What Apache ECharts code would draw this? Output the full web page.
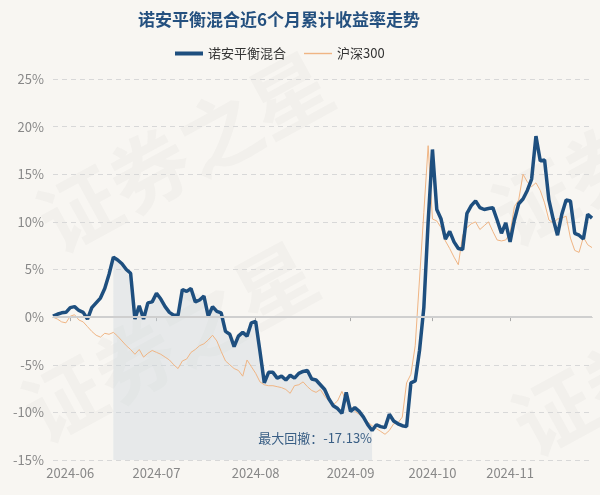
<!DOCTYPE html>
<html>
<head>
<meta charset="utf-8">
<script src="https://cdn.jsdelivr.net/npm/echarts@6/dist/echarts.min.js"></script>
<style>
html,body{margin:0;padding:0;background:#f8f6f2;}
#c{width:600px;height:495px;}
</style>
</head>
<body>
<div id="c"></div>
<script>
var titleText = '诺安平衡混合近6个月累计收益率走势';
var fundName = '诺安平衡混合';
var indexName = '沪深300';
var drawdownText = '最大回撤：-17.13%';

var dates = [
'2024-05-28','2024-05-29','2024-05-30','2024-05-31',
'2024-06-03','2024-06-04','2024-06-05','2024-06-06','2024-06-07','2024-06-10','2024-06-11','2024-06-12','2024-06-13','2024-06-14',
'2024-06-17','2024-06-18','2024-06-19','2024-06-20','2024-06-21','2024-06-24','2024-06-25','2024-06-26','2024-06-27','2024-06-28',
'2024-07-01','2024-07-02','2024-07-03','2024-07-04','2024-07-05','2024-07-08','2024-07-09','2024-07-10','2024-07-11','2024-07-12',
'2024-07-15','2024-07-16','2024-07-17','2024-07-18','2024-07-19','2024-07-22','2024-07-23','2024-07-24','2024-07-25','2024-07-26',
'2024-07-29','2024-07-30','2024-07-31',
'2024-08-01','2024-08-02','2024-08-05','2024-08-06','2024-08-07','2024-08-08','2024-08-09','2024-08-12','2024-08-13','2024-08-14',
'2024-08-15','2024-08-16','2024-08-19','2024-08-20','2024-08-21','2024-08-22','2024-08-23','2024-08-26','2024-08-27','2024-08-28',
'2024-08-29','2024-08-30',
'2024-09-02','2024-09-03','2024-09-04','2024-09-05','2024-09-06','2024-09-09','2024-09-10','2024-09-11','2024-09-12','2024-09-13',
'2024-09-18','2024-09-19','2024-09-20','2024-09-23','2024-09-24','2024-09-25','2024-09-26','2024-09-27','2024-09-30',
'2024-10-08','2024-10-09','2024-10-10','2024-10-11','2024-10-14','2024-10-15','2024-10-16','2024-10-17','2024-10-18',
'2024-10-21','2024-10-22','2024-10-23','2024-10-24','2024-10-25','2024-10-28','2024-10-29','2024-10-30','2024-10-31',
'2024-11-01','2024-11-04','2024-11-05','2024-11-06','2024-11-07','2024-11-08','2024-11-11','2024-11-12','2024-11-13','2024-11-14',
'2024-11-15','2024-11-18','2024-11-19','2024-11-20','2024-11-21','2024-11-22','2024-11-25','2024-11-26','2024-11-27','2024-11-28'
];

var fundValues = [
0.1,0.3,0.45,0.5,1.0,1.1,0.7,0.5,-0.2,1.0,
1.5,2.0,3.0,4.5,6.3,6.0,5.6,5.0,4.6,-0.2,
1.2,-0.2,1.5,1.6,2.5,1.9,1.1,0.5,0.2,0.2,
2.9,2.7,3.0,1.6,1.8,2.2,0.1,1.1,0.6,0.45,
-1.5,-1.8,-3.1,-2.0,-1.6,-2.0,-0.6,-0.45,-3.6,-6.9,
-5.8,-5.8,-6.4,-6.2,-6.6,-6.1,-6.4,-5.9,-5.7,-5.6,
-6.5,-6.6,-7.1,-7.6,-8.6,-9.3,-9.6,-10.1,-7.9,-9.9,
-9.5,-9.9,-10.5,-11.3,-11.91,-11.3,-11.5,-11.6,-10.2,-10.9,
-11.2,-11.4,-11.5,-6.9,-6.7,-3.5,1.0,10.0,17.6,11.3,
10.3,8.2,9.0,7.9,7.2,7.1,10.9,11.7,12.2,11.5,
11.3,11.4,11.5,10.2,8.8,9.9,7.9,10.2,11.9,12.4,
13.3,14.5,19.0,16.4,16.5,12.3,10.3,8.6,10.8,12.3,
12.2,8.8,8.6,8.2,10.8,10.4
];

var indexValues = [
0,-0.2,-0.5,-0.6,0.1,0.25,-0.3,-0.5,-1.0,-1.5,
-1.9,-2.1,-1.7,-1.8,-1.6,-2.0,-2.5,-3.0,-3.4,-3.9,
-3.4,-4.2,-3.8,-3.5,-3.7,-3.9,-4.2,-4.5,-5.0,-5.4,
-4.6,-4.4,-3.7,-3.4,-3.0,-2.8,-2.4,-1.9,-2.5,-3.6,
-4.6,-5.0,-5.4,-5.6,-6.2,-4.5,-5.2,-5.9,-6.8,-7.1,
-7.2,-7.2,-7.3,-7.4,-7.6,-8.0,-7.2,-7.1,-6.8,-7.3,
-7.7,-7.9,-7.6,-8.3,-8.8,-9.2,-8.8,-7.8,-8.8,-9.4,
-9.9,-10.2,-10.6,-11.0,-11.4,-11.7,-12.0,-12.3,-11.9,-11.2,
-11.1,-10.5,-6.9,-6.0,-3.0,4.0,11.0,18.0,10.3,10.1,
9.4,8.0,7.2,6.3,5.5,8.6,9.4,9.8,10.0,9.2,
9.6,10.0,9.0,8.1,8.0,8.1,8.8,11.6,12.3,15.0,
14.2,13.7,14.1,13.3,12.0,10.2,9.9,10.3,10.4,10.6,
8.3,7.0,6.8,8.4,7.6,7.3
];

var yTicks = [-15,-10,-5,0,5,10,15,20,25];
var peakIdx = 14, troughIdx = 74;

var ddValues = fundValues.map(function(v, i){ return (i >= peakIdx && i <= troughIdx) ? v : null; });

function isMonthStart(idx){
  if (idx === 0) return false;
  return dates[idx].slice(0,7) !== dates[idx-1].slice(0,7);
}

var blue = '#1e4f7f', orange = '#f0b584';
var chart = echarts.init(document.getElementById('c'), null, {renderer:'canvas'});
var wm = 'rgba(120,120,120,0.045)';
var wmFont = 'bold 80px "Noto Sans CJK SC"';
chart.setOption({
  backgroundColor: '#f8f6f2',
  animation: false,
  title: {
    text: titleText,
    left: 133,
    top: 6,
    textStyle: {fontSize: 17, fontWeight: 'bold', color: '#24507f', fontFamily: 'Noto Sans CJK SC'}
  },
  legend: {
    top: 42,
    left: 170,
    itemWidth: 28,
    itemHeight: 10,
    itemGap: 18,
    textStyle: {fontSize: 13, color: '#333', fontFamily: 'Noto Sans CJK SC'},
    data: [
      {name: fundName, icon: 'path://M0 0H28V4H0Z', itemStyle: {color: blue}},
      {name: indexName, icon: 'path://M0 0H28V1.4H0Z', itemStyle: {color: orange}}
    ]
  },
  graphic: [
    {type:'text', left: 25, top: 40, rotation: 0.5, style:{text:'证券之星', font: wmFont, fill: wm}, z: -1},
    {type:'text', left: 10, top: 230, rotation: 0.5, style:{text:'证券之星', font: wmFont, fill: wm}, z: -1},
    {type:'text', left: 480, top: 110, rotation: 0.5, style:{text:'证券', font: wmFont, fill: wm}, z: -1},
    {type:'text', left: 500, top: 320, rotation: 0.5, style:{text:'证券', font: wmFont, fill: wm}, z: -1}
  ],
  grid: {left: 53, right: 8, top: 79, bottom: 35, containLabel: false},
  xAxis: {
    type: 'category',
    data: dates,
    boundaryGap: false,
    axisLine: {lineStyle: {color: '#aaa', width: 1}},
    axisTick: {show: true, length: 4, lineStyle: {color: '#aaa'}, interval: function(i){ return isMonthStart(i); }},
    axisLabel: {
      interval: function(i){ return isMonthStart(i); },
      formatter: function(v){ return v.slice(0,7); },
      color: '#888', fontSize: 13, margin: 7, fontFamily: 'Noto Sans CJK SC'
    },
    splitLine: {show: false}
  },
  yAxis: {
    type: 'value',
    min: yTicks[0], max: yTicks[yTicks.length-1], interval: 5,
    axisLine: {show: false},
    axisTick: {show: false},
    axisLabel: {formatter: '{value}%', color: '#888', fontSize: 13, margin: 9, fontFamily: 'Noto Sans CJK SC'},
    splitLine: {lineStyle: {type: [5,4], color: '#d8d8d8', width: 1}}
  },
  series: [
    {
      name: 'drawdown',
      type: 'line',
      data: ddValues,
      symbol: 'none',
      connectNulls: false,
      lineStyle: {width: 0, opacity: 0},
      areaStyle: {color: 'rgba(203,213,222,0.55)', origin: 'start'},
      z: 1,
      silent: true,
      markPoint: {
        symbol: 'circle', symbolSize: 0,
        label: {show: true, position: 'left', distance: 0, formatter: drawdownText, color: '#3a5f85', fontSize: 13, fontFamily: 'Noto Sans CJK SC'},
        data: [{coord: [troughIdx, -12.65]}]
      }
    },
    {
      name: indexName,
      type: 'line',
      data: indexValues,
      symbol: 'none',
      lineStyle: {width: 1, color: orange},
      itemStyle: {color: orange},
      z: 3
    },
    {
      name: fundName,
      type: 'line',
      data: fundValues,
      symbol: 'none',
      lineStyle: {width: 3.5, color: blue},
      itemStyle: {color: blue},
      z: 4,
      markLine: {
        silent: true, symbol: 'none',
        lineStyle: {type: 'solid', color: '#cfcfcf', width: 2},
        label: {show: false},
        data: [{yAxis: 0}]
      }
    }
  ]
});
</script>
</body>
</html>
